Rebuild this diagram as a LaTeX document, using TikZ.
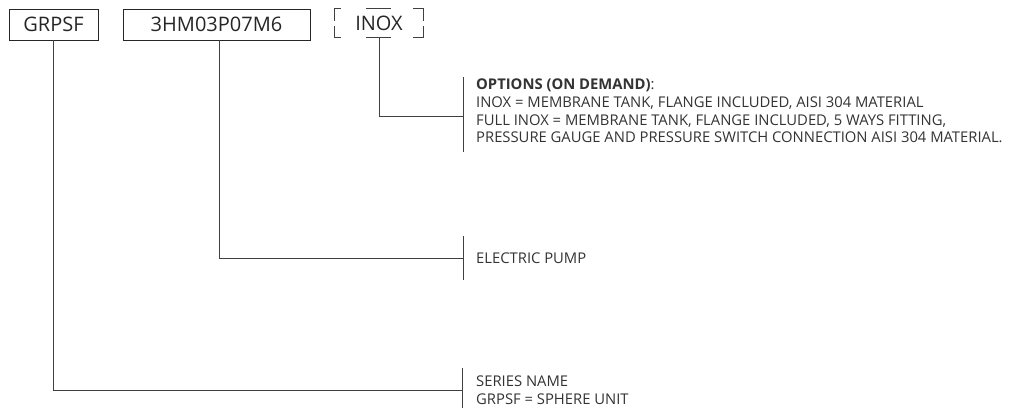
\documentclass[tikz,border=0pt]{standalone}
\usepackage{fontspec}
\setmainfont{Open Sans}
\usetikzlibrary{calc}

\tikzset{
	codebox/.style={draw=black!85, line width=0.9pt, inner sep=0pt, minimum height=31, font=\fontsize{20}{22}\selectfont, text=black!85},
	legend/.style={anchor=west, align=left, inner sep=0pt, font=\fontsize{14.8}{17.7}\selectfont, text=black!80},
	lead/.style={draw=black!75, line width=0.9pt}
}

\begin{document}
\begin{tikzpicture}[x=1pt,y=-1pt]
	\useasboundingbox (0,0) rectangle (1012,410);
	
	%CODE BOXES
	\node[codebox, minimum width=89] (grpsf) at (53.5,24.5) {GRPSF};
	\node[codebox, minimum width=187] (pump) at (216.5,24.5) {3HM03P07M6};
	\node[inner sep=0pt, minimum width=89, minimum height=28, font=\fontsize{20}{22}\selectfont, text=black!85] (inox) at (379,23) {INOX};
	
	%BRACKET ROUND INOX
	\draw[lead] ([shift={(0,12)}]inox.north west) -- (inox.north west) -- ++(7,0);
	\draw[lead] ([shift={(0,-11)}]inox.south west) -- (inox.south west) -- ++(7,0);
	\draw[lead] ([shift={(0,12)}]inox.north east) -- (inox.north east) -- ++(-11,0);
	\draw[lead] ([shift={(0,-11)}]inox.south east) -- (inox.south east) -- ++(-11,0);
	\draw[lead] ([shift={(-13,0)}]inox.north) -- ++(25,0);
	\draw[lead] ([shift={(-13,0)}]inox.south) -- ++(25,0);
	
	%END POINTS
	\coordinate (opt) at (463,116);
	\coordinate (elec) at (463,258);
	\coordinate (series) at (462,390);
	
	%LEADERS
	\draw[lead] (inox.south) |- (opt);
	\draw[lead] (pump.south) ++(2.5,0) |- (elec);
	\draw[lead] (grpsf.south) |- (series);
	
	%BARS
	\draw[lead] ([shift={(0,-39)}]opt) -- ([shift={(0,36)}]opt);
	\draw[lead] ([shift={(0,-22)}]elec) -- ([shift={(0,22)}]elec);
	\draw[lead] ([shift={(0,-22)}]series) -- ([shift={(0,18)}]series);
	
	%TEXTS
	\node[legend] (opttxt) at (476,111) {\textbf{OPTIONS (ON DEMAND)}:\\
		INOX = MEMBRANE TANK, FLANGE INCLUDED, AISI 304 MATERIAL\\
		FULL INOX = MEMBRANE TANK, FLANGE INCLUDED, 5 WAYS FITTING,\\
		PRESSURE GAUGE AND PRESSURE SWITCH CONNECTION AISI 304 MATERIAL.};
	\node[legend] (electxt) at (476,258) {ELECTRIC PUMP};
	\node[legend] (seriestxt) at (476,390) {SERIES NAME\\
		GRPSF = SPHERE UNIT};
\end{tikzpicture}
\end{document}
